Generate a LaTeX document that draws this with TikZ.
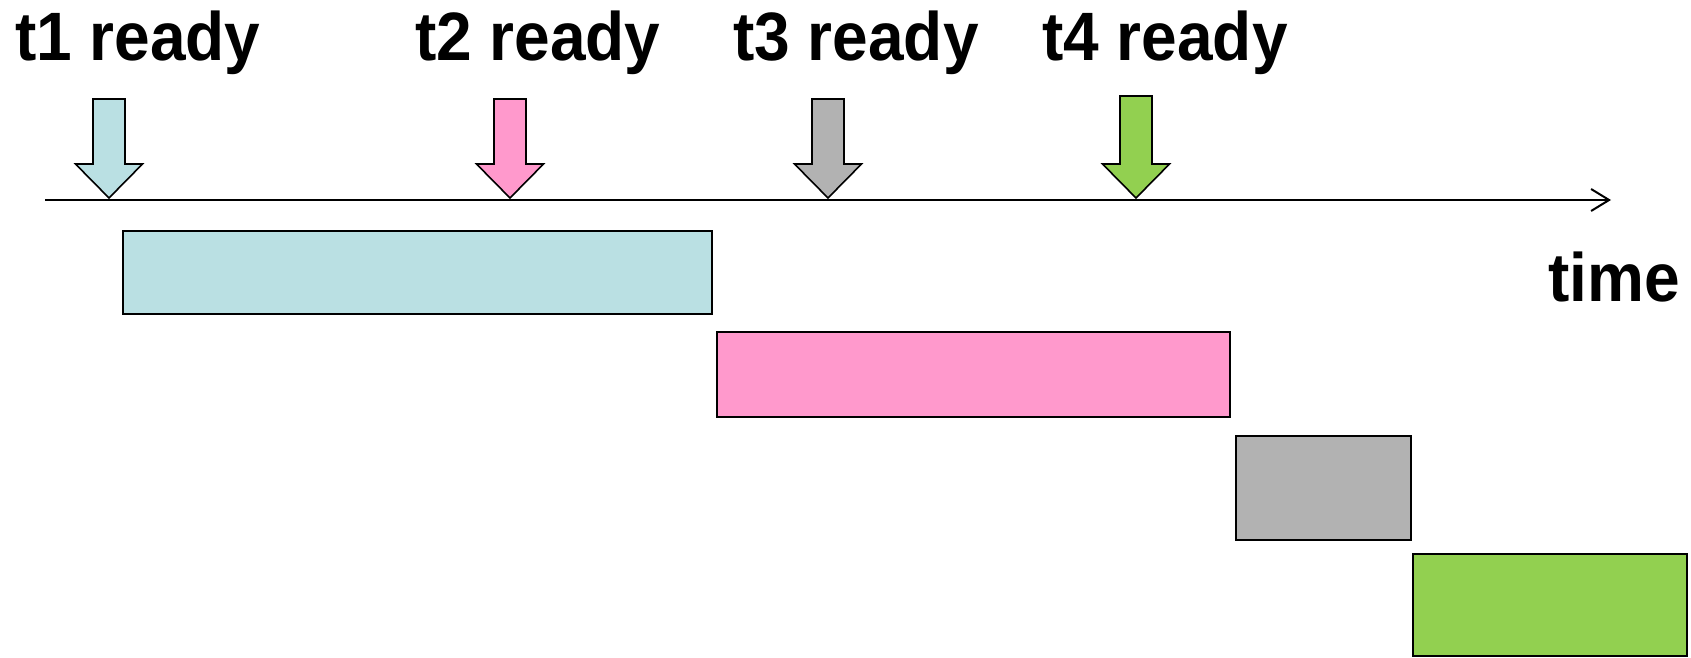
\documentclass[tikz,border=0pt]{standalone}
\usepackage{fontspec}
\setmainfont{Liberation Sans}
\usetikzlibrary{arrows.meta,calc}
\definecolor{taskblue}{RGB}{186,224,227}
\definecolor{taskpink}{RGB}{255,153,204}
\definecolor{taskgray}{RGB}{178,178,178}
\definecolor{taskgreen}{RGB}{146,208,80}
% bold heading text, stretched a little upward
\newcommand\tallbold[1]{\scalebox{1}[1.07]{#1}}
\tikzset{
  lbl/.style={inner sep=0pt, anchor=base west, font=\bfseries\fontsize{64}{72}\selectfont},
  taskbox/.style={draw=black, line width=2.2pt, inner sep=0pt, anchor=north west},
  readyarrow/.style={draw=black, line width=1.6pt, line join=miter},
  axisline/.style={line width=2pt, -{Straight Barb[length=18pt,width=22pt,line width=2pt]}}
}
% down-pointing block arrow: name, centre x, top y, fill colour
\newcommand\readymark[4]{%
  \coordinate (#1) at (#2,198);
  \filldraw[readyarrow, fill=#4]
    ($(#1)+(-16,{#3-198})$) -- ($(#1)+(16,{#3-198})$) -- ($(#1)+(16,-34)$) --
    ($(#1)+(33.5,-34)$) -- (#1) -- ($(#1)+(-33.5,-34)$) -- ($(#1)+(-16,-34)$) -- cycle;
}
\begin{document}
\begin{tikzpicture}[x=1pt,y=-1pt]
\useasboundingbox (0,0) rectangle (1691,658);

% labels
\node[lbl] (l1) at (15,61) {\tallbold{t1 ready}};
\node[lbl] (l2) at (415,61) {\tallbold{t2 ready}};
\node[lbl] (l3) at (733,61) {\tallbold{t3 ready}};
\node[lbl] (l4) at (1042,61) {\tallbold{t4 ready}};
\node[lbl, anchor=base east] (ltime) at (1680,301) {\tallbold{time}};

% time axis
\coordinate (axstart) at (45,200);
\coordinate (axend) at (1611,200);
\draw[axisline] (axstart) -- (axend);

% ready markers
\readymark{a1}{109}{99}{taskblue}
\readymark{a2}{510}{99}{taskpink}
\readymark{a3}{828}{99}{taskgray}
\readymark{a4}{1136}{96}{taskgreen}

% execution intervals
\node[taskbox, fill=taskblue, minimum width=589pt, minimum height=83pt] (b1) at (122,230) {};
\node[taskbox, fill=taskpink, minimum width=513pt, minimum height=85pt] (b2) at (716,331) {};
\node[taskbox, fill=taskgray, minimum width=175pt, minimum height=104pt] (b3) at (1235,435) {};
\node[taskbox, fill=taskgreen, minimum width=274pt, minimum height=102pt] (b4) at (1412,553) {};
\end{tikzpicture}
\end{document}
